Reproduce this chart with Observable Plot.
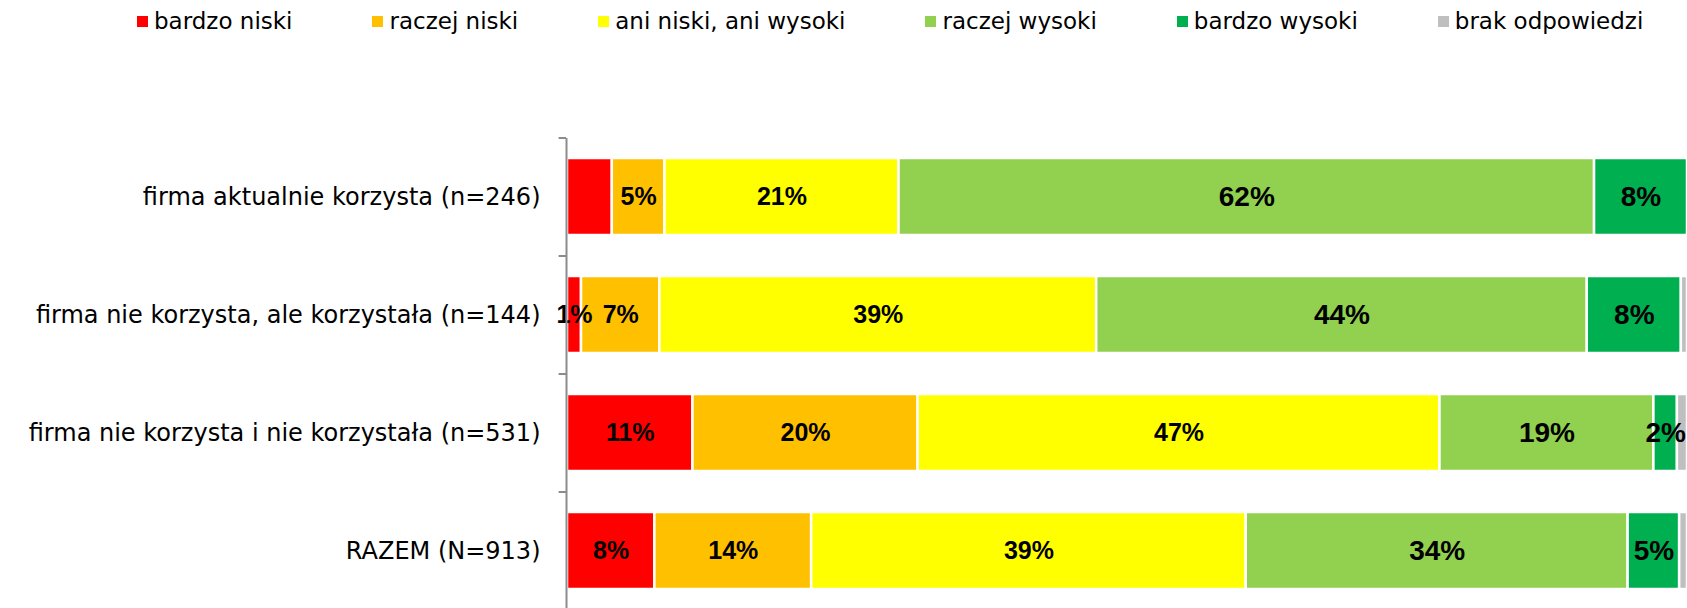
<!DOCTYPE html>
<html><head><meta charset="utf-8">
<script src="https://cdn.jsdelivr.net/npm/d3@7"></script>
<script src="https://cdn.jsdelivr.net/npm/@observablehq/plot@0.6"></script>
<style>
html,body{margin:0;padding:0;background:#fff;overflow:hidden;width:1687px;height:608px;position:relative}
#chart{position:absolute;left:0;top:0}
#legend{position:absolute;left:137px;top:8px;display:flex;gap:80px;font-family:"DejaVu Sans",sans-serif;font-size:23px;color:#000;white-space:nowrap}
.item{display:flex;align-items:center}
.sw{width:11px;height:11px;margin-right:6px}
</style></head><body>
<div id="chart"></div>
<div id="legend"></div>
<script>
const categories = [
  "firma aktualnie korzysta (n=246)",
  "firma nie korzysta, ale korzystała (n=144)",
  "firma nie korzysta i nie korzystała (n=531)",
  "RAZEM (N=913)"
];
const series = ["bardzo niski","raczej niski","ani niski, ani wysoki","raczej wysoki","bardzo wysoki","brak odpowiedzi"];
const colors = ["#FF0000","#FFC000","#FFFF00","#92D050","#00B050","#BFBFBF"];

// values per series (one per category)
const bardzoNiski   = [4.0, 1.25, 11.2, 7.8];
const raczejNiski   = [4.7, 7.0, 20.1, 14.0];
const aniNiskiAni   = [20.9, 39.0, 46.6, 38.8];
const raczejWysoki  = [62.1, 43.8, 19.1, 34.1];
const bardzoWysoki  = [8.3, 8.4, 2.1, 4.6];
const brakOdp       = [0, 0.55, 0.9, 0.7];

// printed labels
const lbBardzoNiski  = ["", "1%", "11%", "8%"];
const lbRaczejNiski  = ["5%", "7%", "20%", "14%"];
const lbAniNiskiAni  = ["21%", "39%", "47%", "39%"];
const lbRaczejWysoki = ["62%", "44%", "19%", "34%"];
const lbBardzoWysoki = ["8%", "8%", "2%", "5%"];
const lbBrakOdp      = ["", "", "", ""];

const values = [bardzoNiski, raczejNiski, aniNiskiAni, raczejWysoki, bardzoWysoki, brakOdp];
const labels = [lbBardzoNiski, lbRaczejNiski, lbAniNiskiAni, lbRaczejWysoki, lbBardzoWysoki, lbBrakOdp];

const rows = [];
categories.forEach((c, ci) => {
  series.forEach((s, si) => {
    if (values[si][ci] > 0) rows.push({cat: c, series: s, si, value: values[si][ci], label: labels[si][ci]});
  });
});

const W = 1687, H = 610, mTop = 138, mLeft = 567;
const step = (H - mTop) / categories.length;

const chart = Plot.plot({
  width: W, height: H,
  marginLeft: mLeft, marginRight: 0, marginTop: mTop, marginBottom: 0,
  style: {background: "transparent", overflow: "visible"},
  x: {domain: [0, 100], axis: null},
  y: {domain: categories, paddingInner: 0.347, paddingOuter: 0.1735, label: null},
  color: {domain: series, range: colors},
  marks: [
    Plot.barX(rows, Plot.stackX({x: "value", y: "cat", fill: "series", stroke: "white", strokeWidth: 2.5})),
    Plot.text(rows, Plot.stackX({
      x: "value", y: "cat", text: "label",
      fontSize: d => d.si >= 3 ? 28 : 25,
      fontFamily: "Liberation Sans, Arial, sans-serif", fontWeight: "bold", fill: "#000"
    })),
    Plot.ruleX([0], {stroke: "#8c8c8c", strokeWidth: 2, dx: -1}),
    Plot.ruleY(categories, {y: d => d, x1: -0.75, x2: -0.09, dy: -step / 2, stroke: "#8c8c8c", strokeWidth: 2}),
    Plot.axisY({tickSize: 0, tickPadding: 27, fontSize: 24, fontFamily: "DejaVu Sans, sans-serif", fill: "#000", label: null})
  ]
});
document.getElementById("chart").appendChild(chart);

const lg = document.getElementById("legend");
series.forEach((s, i) => {
  const it = document.createElement("div");
  it.className = "item";
  const sw = document.createElement("span");
  sw.className = "sw";
  sw.style.background = colors[i];
  const tx = document.createElement("span");
  tx.textContent = s;
  it.appendChild(sw); it.appendChild(tx);
  lg.appendChild(it);
});
</script>
</body></html>
